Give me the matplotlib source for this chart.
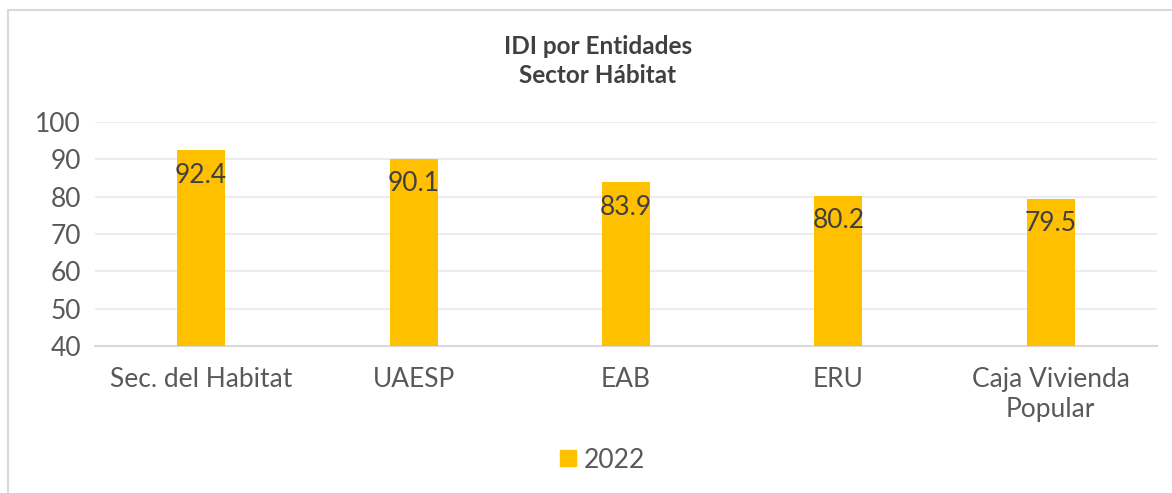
import numpy as np
import matplotlib.pyplot as plt
from matplotlib.lines import Line2D

entidades = ['Sec. del Habitat', 'UAESP', 'EAB', 'ERU', 'Caja Vivienda\nPopular']
idi_2022 = [92.4, 90.1, 83.9, 80.2, 79.5]
serie = '2022'

plt.rcParams['font.family'] = ['Lato', 'DejaVu Sans']
gris = '#595959'
oro = '#FFC000'

fig = plt.figure(figsize=(11.72, 4.93), dpi=100)
W, H = 1172, 493

# chart border (left and top visible)
fig.add_artist(Line2D([8 / W, 8 / W], [0, 1 - 10 / H], color='#d9d9d9', lw=1.5))
fig.add_artist(Line2D([8 / W, 1], [1 - 10 / H, 1 - 10 / H], color='#d9d9d9', lw=1.5))

ax = fig.add_axes([95 / W, (H - 346) / H, (1157 - 95) / W, (346 - 122) / H])
x = np.arange(len(entidades))
ax.bar(x, idi_2022, width=0.226, color=oro, zorder=3)
for xi, v in zip(x, idi_2022):
    ax.annotate(f'{v}', (xi, v), xytext=(0, -25), textcoords='offset pixels',
                ha='center', va='center', fontsize=19, color='#404040', zorder=4)

ax.set_ylim(40, 100)
ax.set_xlim(-0.5, len(entidades) - 0.5)
ax.set_yticks(range(40, 101, 10))
ax.grid(axis='y', color='#ececec', lw=1.5, zorder=0)
for s in ['top', 'right', 'left']:
    ax.spines[s].set_visible(False)
ax.spines['bottom'].set_color('#d9d9d9')
ax.spines['bottom'].set_linewidth(1.5)
ax.tick_params(axis='both', length=0, labelsize=19, labelcolor=gris)
ax.tick_params(axis='y', pad=10)
ax.tick_params(axis='x', pad=15)
ax.set_xticks(x)
ax.set_xticklabels(entidades, linespacing=1.25)
for lbl in ax.get_xticklabels():
    lbl.set_verticalalignment('top')

fig.text(598 / W, 1 - 61 / H, 'IDI por Entidades\nSector Hábitat', ha='center', va='center',
         fontsize=17.5, fontweight='bold', color='#404040', linespacing=1.3)

h = Line2D([], [], marker='s', ls='none', color=oro, markersize=12)
fig.legend([h], [serie], loc='center', bbox_to_anchor=(600 / W, 1 - 460 / H), frameon=False,
           fontsize=19, labelcolor=gris, handletextpad=0.1, handlelength=1.0)

fig.savefig('out.png', dpi=100)
